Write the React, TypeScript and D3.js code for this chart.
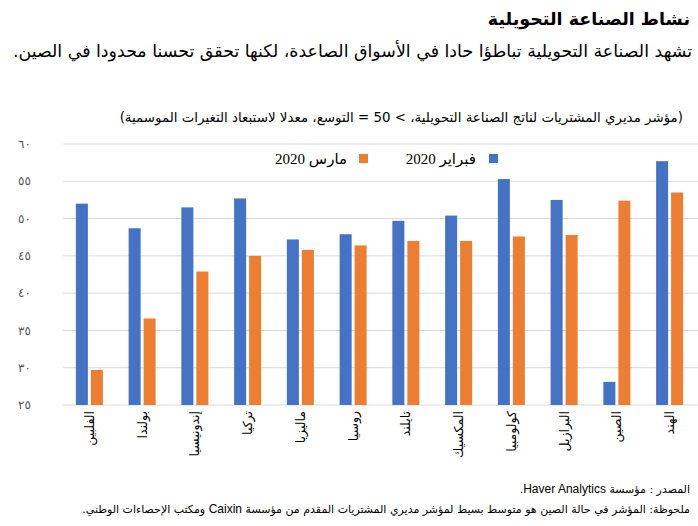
import React, { useEffect } from 'react';
import * as d3 from 'd3';

// بيانات مؤشر مديري المشتريات
const countries = ['الفلبين', 'بولندا', 'إندونيسيا', 'تركيا', 'ماليزيا', 'روسيا', 'تايلند', 'المكسيك', 'كولومبيا', 'البرازيل', 'الصين', 'الهند'];
const feb2020 = [52.0, 48.7, 51.5, 52.7, 47.2, 47.9, 49.7, 50.4, 55.3, 52.5, 28.1, 57.7];
const mar2020 = [29.7, 36.6, 42.9, 45.0, 45.8, 46.4, 47.0, 47.0, 47.6, 47.8, 52.4, 53.5];
const seriesNames = ['فبراير 2020', 'مارس 2020'];
const yTicks = [25, 30, 35, 40, 45, 50, 55, 60];

const W = 698;
const H = 526;
const margin = { top: 144, right: 2, bottom: 121, left: 63 };
const colors = ['#4472C4', '#ED7D31'];
const arabicFont = "'DejaVu Sans', 'Liberation Sans', sans-serif";
const serifFont = "'Liberation Serif', 'DejaVu Sans', serif";
const latinFont = "'Liberation Sans', Arial, sans-serif";

const toArabicDigits = (n: number) =>
  String(n).replace(/[0-9]/g, (d) => '٠١٢٣٤٥٦٧٨٩'[+d]);

export default function App() {
  useEffect(() => {
    document.body.style.margin = '0';
  }, []);

  const x0 = d3.scaleBand<string>()
    .domain(countries)
    .range([margin.left, 696]);

  const y = d3.scaleLinear()
    .domain([25, 60])
    .range([H - margin.bottom, margin.top]);

  const groupW = 27;
  const x1 = d3.scaleBand<string>()
    .domain(['feb', 'mar'])
    .range([0, groupW])
    .paddingInner(0.2);

  const rows = countries.map((c, i) => ({ c, feb: feb2020[i], mar: mar2020[i] }));

  return (
    <svg width={W} height={H} style={{ display: 'block', background: '#fff' }}>
      {/* العنوان */}
      <text x={690} y={25} direction="rtl" textAnchor="start" fontFamily={arabicFont}
        fontWeight="bold" fontSize={17.5} fill="#000">نشاط الصناعة التحويلية</text>
      <text x={692} y={57} direction="rtl" textAnchor="start" fontFamily={arabicFont}
        fontSize={17.4} fill="#000">تشهد الصناعة التحويلية تباطؤا حادا في الأسواق الصاعدة، لكنها تحقق تحسنا محدودا في الصين.</text>
      <text x={683} y={122} direction="rtl" textAnchor="start" fontFamily={arabicFont}
        fontSize={13.4} fill="#000">(مؤشر مديري المشتريات لناتج الصناعة التحويلية، &gt; 50 = التوسع، معدلا لاستبعاد التغيرات الموسمية)</text>

      {/* خطوط الشبكة */}
      {yTicks.map((t) => (
        <g key={t}>
          <line x1={margin.left} x2={W} y1={y(t)} y2={y(t)} stroke="#d9d9d9" strokeWidth={1} />
          <text x={31} y={y(t)} dy="0.35em" textAnchor="end" fontFamily={arabicFont}
            fontSize={12} fill="#595959">{toArabicDigits(t)}</text>
        </g>
      ))}

      {/* الأعمدة */}
      {rows.map((r) => {
        const cx = (x0(r.c) ?? 0) + x0.bandwidth() / 2 - groupW / 2;
        return (
          <g key={r.c} transform={`translate(${cx},0)`}>
            <rect x={x1('feb')} y={y(r.feb)} width={x1.bandwidth()} height={y(25) - y(r.feb)} fill={colors[0]} />
            <rect x={x1('mar')} y={y(r.mar)} width={x1.bandwidth()} height={y(25) - y(r.mar)} fill={colors[1]} />
          </g>
        );
      })}

      {/* تسميات المحور الأفقي */}
      {countries.map((c) => {
        const cx = (x0(c) ?? 0) + x0.bandwidth() / 2;
        return (
          <text key={c} transform={`translate(${cx},${y(25) + 6}) rotate(-90)`} dy="0.35em"
            textAnchor="end" fontFamily={arabicFont} fontSize={12.5} fill="#000">{c}</text>
        );
      })}

      {/* وسيلة الإيضاح */}
      <rect x={489} y={154} width={9} height={9} fill={colors[0]} />
      <text x={476} y={164} direction="rtl" textAnchor="start" fontFamily={serifFont}
        fontSize={15} fill="#000">{seriesNames[0]}</text>
      <rect x={359} y={154} width={9} height={9} fill={colors[1]} />
      <text x={347} y={164} direction="rtl" textAnchor="start" fontFamily={serifFont}
        fontSize={15} fill="#000">{seriesNames[1]}</text>

      {/* المصدر والملاحظة */}
      <text x={690} y={493} direction="rtl" textAnchor="start" fontFamily={arabicFont}
        fontSize={11} fill="#000">المصدر : مؤسسة <tspan fontFamily={latinFont} fontSize={12}>Haver Analytics</tspan>.</text>
      <text x={690} y={513} direction="rtl" textAnchor="start" fontFamily={arabicFont}
        fontSize={11} fill="#000">ملحوظة: المؤشر في حالة الصين هو متوسط بسيط لمؤشر مديري المشتريات المقدم من مؤسسة <tspan fontFamily={latinFont} fontSize={12}>Caixin</tspan> ومكتب الإحصاءات الوطني.</text>
    </svg>
  );
}
